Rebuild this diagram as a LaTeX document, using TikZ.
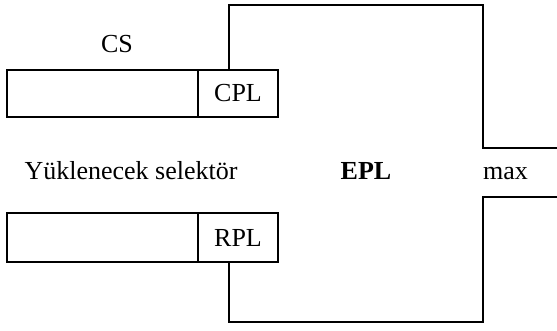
\documentclass[tikz,border=0pt]{standalone}
\usepackage{fontspec}
\setmainfont{Liberation Serif}
\begin{document}
\begin{tikzpicture}[x=1pt,y=-1pt,
  cell/.style={draw,line width=2pt,inner sep=0pt,rectangle},
  lbl/.style={inner sep=0pt,anchor=base,font=\fontsize{26}{30}\selectfont},
  wire/.style={line width=2pt,line join=miter}]
\useasboundingbox (0,0) rectangle (557,331);
% top selector
\node[cell,minimum width=191pt,minimum height=47pt] (csbox) at (102.5,93.5) {};
\node[cell,minimum width=80pt,minimum height=47pt,font=\fontsize{26}{30}\selectfont] (cpl) at (238,93.5) {CPL};
% bottom selector
\node[cell,minimum width=191pt,minimum height=49pt] (selbox) at (102.5,237.5) {};
\node[cell,minimum width=80pt,minimum height=49pt,font=\fontsize{26}{30}\selectfont] (rpl) at (238,237.5) {RPL};
% labels
\node[lbl] (cs) at (117,53) {CS};
\node[lbl] (yuk) at (131,180) {Yüklenecek selektör};
\node[lbl,font=\fontsize{26}{30}\selectfont\bfseries] (epl) at (366,180) {EPL};
\node[lbl] (max) at (505.5,180) {max};
% wires
\coordinate (topstart) at (229,69);
\coordinate (botstart) at (229,263);
\coordinate (topend) at (557,148);
\coordinate (botend) at (557,197);
\draw[wire] (topstart) -- (229,5) -- (483,5) |- (topend);
\draw[wire] (botstart) -- (229,322) -- (483,322) |- (botend);
\end{tikzpicture}
\end{document}
